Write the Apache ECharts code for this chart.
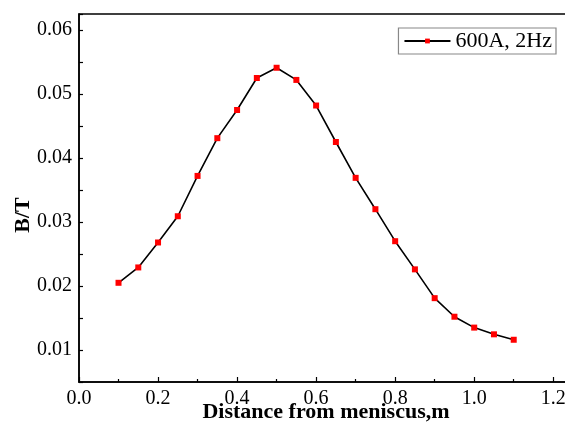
<!DOCTYPE html>
<html>
<head>
<meta charset="utf-8">
<script src="https://cdn.jsdelivr.net/npm/echarts@6/dist/echarts.min.js"></script>
<style>html,body{margin:0;padding:0;background:#fff}#c{width:565px;height:425px}</style>
</head>
<body>
<div id="c"></div>
<script>
var distance = [0.10,0.15,0.20,0.25,0.30,0.35,0.40,0.45,0.50,0.55,0.60,0.65,0.70,0.75,0.80,0.85,0.90,0.95,1.00,1.05,1.10];
var fieldB = [0.0205,0.0229,0.0268,0.0309,0.0372,0.0431,0.0475,0.0525,0.0541,0.0522,0.0482,0.0425,0.0369,0.0320,0.0270,0.0226,0.0181,0.0152,0.0135,0.01245,0.0116];
var seriesName = '600A, 2Hz';
var xTitle = 'Distance from meniscus,m';
var yTitle = 'B/T';

var font = "'Liberation Serif','Times New Roman',serif";
var chart = echarts.init(document.getElementById('c'), null, {renderer: 'canvas'});
chart.setOption({
  animation: false,
  backgroundColor: '#fff',
  grid: {left: 79, top: 14, right: -8, bottom: 43, containLabel: false, outerBoundsMode: 'none',
    show: true, borderColor: '#000', borderWidth: 1.5, backgroundColor: 'transparent'},
  legend: {
    right: 9, top: 28, padding: [2, 4, 2, 5],
    borderColor: '#888', borderWidth: 1.2, borderRadius: 0,
    itemWidth: 46, itemHeight: 6,
    textStyle: {fontFamily: font, fontSize: 22, color: '#000'},
    data: [seriesName]
  },
  xAxis: {
    type: 'value', min: 0, max: 1.25, interval: 0.2,
    name: xTitle, nameLocation: 'middle', nameGap: 19, nameMoveOverlap: false,
    nameTextStyle: {fontFamily: font, fontSize: 22, fontWeight: 'bold', color: '#000'},
    axisLine: {show: true, lineStyle: {color: '#000', width: 1.5}},
    axisTick: {show: true, inside: true, length: 5, lineStyle: {color: '#000', width: 1.2}},
    minorTick: {show: true, splitNumber: 2, length: 3, lineStyle: {color: '#000', width: 1.2}},
    splitLine: {show: false},
    axisLabel: {fontFamily: font, fontSize: 20, color: '#000', margin: 7, showMaxLabel: false,
      formatter: function (v) { return v.toFixed(1); }}
  },
  yAxis: {
    type: 'value', min: 0.005, max: 0.0625, interval: 0.005,
    name: yTitle, nameLocation: 'middle', nameGap: 45, nameMoveOverlap: false,
    nameTextStyle: {fontFamily: font, fontSize: 22, fontWeight: 'bold', color: '#000', padding: [0, 34, 0, 0]},
    axisLine: {show: true, lineStyle: {color: '#000', width: 1.5}},
    axisTick: {show: true, inside: true, length: 4, lineStyle: {color: '#000', width: 1.2}},
    splitLine: {show: false},
    axisLabel: {fontFamily: font, fontSize: 20, color: '#000', margin: 7,
      formatter: function (v) {
        var k = v * 100;
        return Math.abs(k - Math.round(k)) < 1e-6 ? v.toFixed(2) : '';
      }}
  },
  series: [{
    name: seriesName, type: 'line',
    data: distance.map(function (d, i) { return [d, fieldB[i]]; }),
    symbol: 'rect', symbolSize: 6,
    lineStyle: {color: '#000', width: 1.6},
    itemStyle: {color: '#ff0000'}
  }]
});
</script>
</body>
</html>
